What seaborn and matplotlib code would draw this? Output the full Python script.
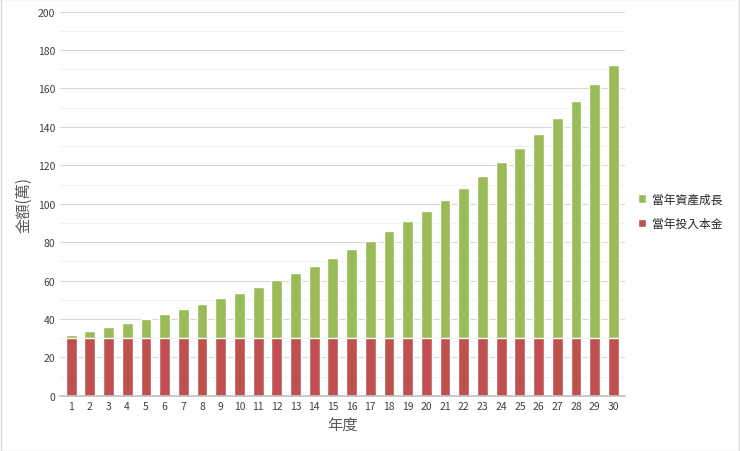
import matplotlib
matplotlib.use("Agg")
import matplotlib.pyplot as plt
import seaborn as sns
import pandas as pd
import numpy as np

years = list(range(1, 31))
principal = [30]*30
totals = [31.8, 33.7, 35.7, 37.9, 40.1, 42.6, 45.1, 47.8, 50.7, 53.7,
          56.9, 60.4, 64.0, 67.8, 71.9, 76.2, 80.8, 85.6, 90.8, 96.2,
          102.0, 108.1, 114.6, 121.5, 128.8, 136.5, 144.7, 153.4, 162.6, 172.3]
growth = [t - p for t, p in zip(totals, principal)]

sns.set_theme(style="white")
plt.rcParams['font.family'] = ['Noto Sans CJK TC', 'DejaVu Sans']

df = pd.DataFrame({"年度": years, "當年投入本金": principal, "總額": totals})

fig = plt.figure(figsize=(7.40, 4.52), dpi=100)
ax = fig.add_axes([0.081, 0.122, 0.763, 0.850])
sns.barplot(data=df, x="年度", y="總額", color="#9BBB59", width=0.58, ax=ax,
            label="當年資產成長", saturation=1)
sns.barplot(data=df, x="年度", y="當年投入本金", color="#C0504D", width=0.58, ax=ax,
            label="當年投入本金", saturation=1)
ax.set_ylim(0, 200)
ax.set_yticks(np.arange(0, 201, 20))
ax.set_yticks(np.arange(0, 201, 10), minor=True)
ax.grid(axis="y", which="major", color="#D9D9D9", lw=0.8)
ax.grid(axis="y", which="minor", color="#EFEFEF", lw=0.6)
ax.set_axisbelow(True)
for s in ["top", "right", "left"]:
    ax.spines[s].set_visible(False)
ax.spines["bottom"].set_color("#BFBFBF")
ax.tick_params(axis="both", labelsize=7.5, colors="#404040", length=0)
ax.set_xlabel("年度", fontsize=11, color="#595959")
ax.set_ylabel("金額(萬)", fontsize=11, color="#595959")
ax.set_xlim(-0.6, 29.6)
ax.legend(loc="center left", bbox_to_anchor=(1.005, 0.48), frameon=False,
          fontsize=8.5, handlelength=0.7, handleheight=0.7, handletextpad=0.5,
          labelspacing=1.0)
fig.patches.append(plt.Rectangle((0.001, 0.001), 0.998, 0.998, transform=fig.transFigure,
                                 fill=False, edgecolor="#D9D9D9", lw=1))
fig.savefig("out.png", dpi=100)
